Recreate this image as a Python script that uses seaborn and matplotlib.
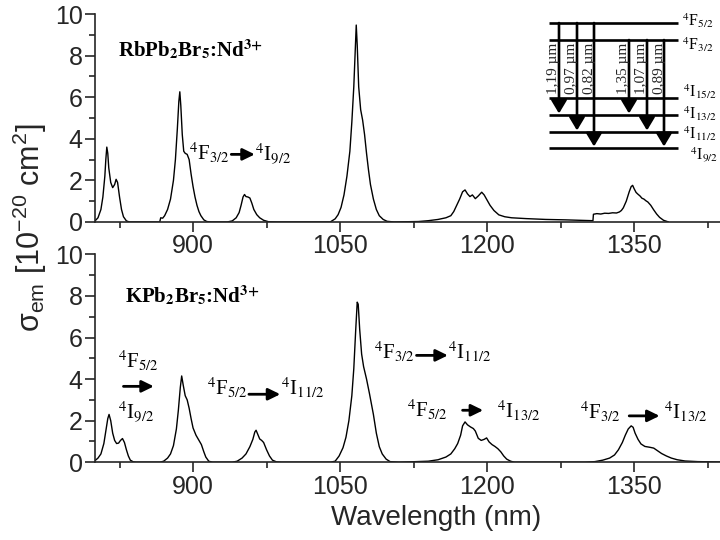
import matplotlib
matplotlib.use('Agg')
import matplotlib.pyplot as plt
import seaborn as sns
import pandas as pd
from matplotlib.ticker import MultipleLocator, FixedLocator

# ---------------- data ----------------
rb_wl = [800, 803, 806, 808, 810, 811, 812, 813, 814, 816, 818, 820, 821.5, 823, 825, 827, 829, 832, 835,
         866, 867, 869, 871, 874, 877, 880, 882, 884, 885.5, 886.5, 887.5, 889, 890.5, 892, 894, 896, 898,
         900, 902, 904, 906, 908, 911, 914, 918,
         935, 940, 944, 947, 949, 951, 952.5, 954, 956, 958, 960, 962, 965, 968, 972, 977, 985,
         1040, 1045, 1048, 1051, 1054, 1057, 1060, 1062, 1064, 1065.5, 1066.5, 1067.5, 1069, 1071, 1073,
         1075, 1077, 1079, 1081, 1084, 1087, 1090, 1094, 1098, 1105,
         1130, 1140, 1150, 1158, 1163, 1166, 1169, 1172, 1175, 1177.5, 1180, 1182.5, 1185, 1188, 1191,
         1194.5, 1197, 1200, 1203, 1207, 1212, 1218, 1225, 1240, 1260, 1280, 1300, 1308,
         1308.5, 1312, 1316, 1320, 1324, 1328, 1332, 1335, 1337, 1339, 1342, 1345, 1347, 1348.5, 1350,
         1352, 1354, 1356, 1358, 1360, 1362, 1364, 1367, 1370, 1373, 1376, 1380, 1385]
rb_sigma = [0.05, 0.2, 0.6, 1.2, 2.2, 3.0, 3.6, 3.3, 2.6, 1.9, 1.65, 1.8, 2.05, 1.9, 1.2, 0.6, 0.25, 0.05, 0.0,
            0.0, 0.2, 0.18, 0.3, 0.6, 1.1, 2.0, 3.0, 4.5, 5.8, 6.26, 5.6, 4.2, 3.4, 3.3, 3.25, 3.0, 2.3,
            1.7, 1.2, 0.8, 0.5, 0.3, 0.1, 0.02, 0.0,
            0.0, 0.05, 0.2, 0.45, 0.8, 1.2, 1.32, 1.22, 1.2, 1.15, 0.9, 0.6, 0.35, 0.2, 0.08, 0.01, 0.0,
            0.0, 0.15, 0.35, 0.7, 1.3, 2.2, 3.4, 4.8, 6.5, 8.3, 9.47, 8.5, 6.5, 5.4, 4.9,
            4.2, 3.3, 2.5, 1.8, 1.1, 0.6, 0.3, 0.12, 0.03, 0.0,
            0.02, 0.06, 0.12, 0.2, 0.3, 0.5, 0.8, 1.1, 1.45, 1.54, 1.35, 1.22, 1.3, 1.12, 1.25,
            1.43, 1.3, 1.05, 0.8, 0.55, 0.34, 0.25, 0.2, 0.16, 0.12, 0.1, 0.07, 0.06,
            0.37, 0.40, 0.38, 0.42, 0.41, 0.44, 0.43, 0.48, 0.55, 0.68, 1.0, 1.45, 1.7, 1.76, 1.6,
            1.42, 1.33, 1.25, 1.14, 1.1, 1.02, 0.96, 0.8, 0.58, 0.38, 0.22, 0.08, 0.0]

k_wl = [800, 803, 806, 809, 811, 813, 814.3, 816, 818, 820, 822, 824, 826, 828, 830, 832, 834, 836, 839, 842,
        866, 870, 874, 877, 880, 883, 885, 887, 888.4, 890, 892, 894, 896, 898, 900, 903, 906, 908.5,
        911, 913, 916, 920,
        940, 945, 950, 954, 958, 961, 963, 964.3, 966, 968, 970, 972, 975, 978, 981, 985, 990,
        1040, 1045, 1049, 1053, 1056, 1059, 1062, 1064, 1066, 1067.5, 1068.5, 1070, 1072, 1074, 1077,
        1080, 1084, 1087, 1090, 1093, 1097, 1101, 1110,
        1140, 1150, 1158, 1163, 1167, 1170, 1173, 1175, 1177.5, 1180, 1183, 1186, 1188, 1191, 1194,
        1197, 1199.5, 1202, 1205, 1208, 1211, 1214, 1217, 1220, 1224, 1228,
        1300, 1310, 1318, 1325, 1330, 1334, 1338, 1341, 1344, 1347, 1349, 1351, 1354, 1357, 1361,
        1366, 1370, 1374, 1378, 1383, 1388, 1394, 1402, 1415, 1430, 1440]
k_sigma = [0.08, 0.2, 0.4, 0.9, 1.5, 2.1, 2.3, 2.0, 1.4, 1.05, 0.9, 0.92, 1.05, 1.14, 0.95, 0.6, 0.3, 0.1, 0.02, 0.0,
           0.0, 0.05, 0.2, 0.4, 0.8, 1.6, 2.5, 3.6, 4.15, 3.7, 3.2, 3.0, 2.6, 2.1, 1.65, 1.3, 1.05, 0.85,
           0.5, 0.25, 0.05, 0.0,
           0.0, 0.05, 0.2, 0.4, 0.75, 1.1, 1.45, 1.54, 1.35, 1.12, 1.05, 0.95, 0.6, 0.3, 0.1, 0.02, 0.0,
           0.0, 0.05, 0.3, 0.7, 1.2, 2.0, 3.2, 4.5, 6.4, 7.7, 7.6, 6.4, 5.2, 4.6, 4.0,
           3.3, 2.3, 1.4, 0.75, 0.4, 0.15, 0.03, 0.0,
           0.05, 0.12, 0.25, 0.4, 0.65, 0.9, 1.3, 1.75, 1.94, 1.8, 1.7, 1.62, 1.5, 1.15, 1.05,
           1.1, 1.17, 0.98, 0.85, 0.76, 0.65, 0.5, 0.3, 0.15, 0.05, 0.0,
           0.0, 0.03, 0.1, 0.2, 0.35, 0.6, 0.95, 1.3, 1.6, 1.75, 1.68, 1.4, 1.1, 0.88, 0.76,
           0.72, 0.68, 0.55, 0.42, 0.3, 0.2, 0.12, 0.06, 0.03, 0.02, 0.01]

x_major = [900, 1050, 1200, 1350]
y_major = [0, 2, 4, 6, 8, 10]

# energy-level scheme (inset)
level_names = [r'$^4$F$_{5/2}$', r'$^4$F$_{3/2}$', r'$^4$I$_{15/2}$',
               r'$^4$I$_{13/2}$', r'$^4$I$_{11/2}$', r'$^4$I$_{9/2}$']
trans_from = [0, 0, 0, 1, 1, 1]
trans_to = [3, 4, 5, 3, 4, 5]
trans_labels = ['1,19 µm', '0,97 µm', '0,82 µm', '1,35 µm', '1,07 µm', '0,89 µm']

# ---------------- style ----------------
sns.set_style('ticks')
plt.rcParams['font.family'] = ['Liberation Sans', 'DejaVu Sans']
plt.rcParams['mathtext.fontset'] = 'custom'
plt.rcParams['mathtext.rm'] = 'Liberation Sans'
plt.rcParams['mathtext.it'] = 'Liberation Sans:italic'
plt.rcParams['mathtext.bf'] = 'Liberation Sans:bold'

SERIF = dict(family=['Liberation Serif', 'DejaVu Serif'], math_fontfamily='stix', color='black')

fig = plt.figure(figsize=(7.2, 5.4), dpi=100)
ax_top = fig.add_axes([0.132, 0.589, 0.8685, 0.385])
ax_bot = fig.add_axes([0.132, 0.144, 0.8685, 0.385])

df_rb = pd.DataFrame({'wl': rb_wl, 'sigma': rb_sigma})
df_k = pd.DataFrame({'wl': k_wl, 'sigma': k_sigma})
sns.lineplot(data=df_rb, x='wl', y='sigma', ax=ax_top, color='black', lw=1.0, estimator=None, sort=False)
sns.lineplot(data=df_k, x='wl', y='sigma', ax=ax_bot, color='black', lw=1.0, estimator=None, sort=False)

for ax in (ax_top, ax_bot):
    ax.set_xlim(800, 1438)
    ax.set_ylim(0, 10)
    ax.xaxis.set_major_locator(FixedLocator(x_major))
    ax.xaxis.set_minor_locator(MultipleLocator(75))
    ax.yaxis.set_major_locator(FixedLocator(y_major))
    ax.yaxis.set_minor_locator(MultipleLocator(1))
    ax.tick_params(which='major', direction='out', length=7, width=1.2, labelsize=18, pad=2)
    ax.tick_params(which='minor', direction='out', length=4, width=1.2)
    for s in ('top', 'right'):
        ax.spines[s].set_visible(False)
    for s in ('left', 'bottom'):
        ax.spines[s].set_linewidth(1.2)
    ax.set_xlabel('')
    ax.set_ylabel('')
    ax.patch.set_alpha(0)

ax_bot.set_xlabel('Wavelength (nm)', fontsize=20)
ax_bot.xaxis.set_label_coords((437 - 95) / 627, -(518 - 462) / 208)
ax_bot.xaxis.label.set_va('center')
fig.text(30 / 720, 1 - 228 / 540, r'σ$_{\rm em}$ [10$^{-20}$ cm$^{2}$]', rotation=90,
         ha='center', va='center', fontsize=22)

# sample labels
ax_top.text(823, 8.27, r'RbPb$_\mathbf{2}$Br$_\mathbf{5}$:Nd$^\mathbf{3{+}}$', fontsize=15,
            fontweight='bold', va='center', ha='left', **SERIF)
ax_bot.text(831, 8.0, r'KPb$_\mathbf{2}$Br$_\mathbf{5}$:Nd$^\mathbf{3{+}}$', fontsize=15,
            fontweight='bold', va='center', ha='left', **SERIF)

ARROW = dict(arrowstyle='-|>,head_length=0.45,head_width=0.22', lw=2.0, color='black',
             shrinkA=0, shrinkB=0, mutation_scale=16)


def transition(ax, x1, y1, xa0, xa1, ya, x2, y2, t1, t2, fs=15):
    ax.text(x1, y1, t1, fontsize=fs, ha='left', va='center', **SERIF)
    ax.annotate('', xy=(xa1, ya), xytext=(xa0, ya), arrowprops=ARROW)
    ax.text(x2, y2, t2, fontsize=fs, ha='left', va='center', **SERIF)


transition(ax_top, 896, 3.3, 939, 963, 3.25, 963, 3.3, r'$^4$F$_{3/2}$', r'$^4$I$_{9/2}$')
# bottom panel
ax_bot.text(823, 4.85, r'$^4$F$_{5/2}$', fontsize=15, ha='left', va='center', **SERIF)
ax_bot.annotate('', xy=(860, 3.65), xytext=(829, 3.65), arrowprops=ARROW)
ax_bot.text(823, 2.45, r'$^4$I$_{9/2}$', fontsize=15, ha='left', va='center', **SERIF)
transition(ax_bot, 914, 3.55, 957, 989, 3.27, 990, 3.55, r'$^4$F$_{5/2}$', r'$^4$I$_{11/2}$')
transition(ax_bot, 1085, 5.3, 1128, 1160, 5.14, 1160, 5.3, r'$^4$F$_{3/2}$', r'$^4$I$_{11/2}$')
transition(ax_bot, 1118, 2.5, 1175, 1196, 2.5, 1210, 2.45, r'$^4$F$_{5/2}$', r'$^4$I$_{13/2}$')
transition(ax_bot, 1295, 2.42, 1345, 1376, 2.23, 1380, 2.42, r'$^4$F$_{3/2}$', r'$^4$I$_{13/2}$')

# ---------------- energy level inset (pixel coordinates) ----------------
ov = fig.add_axes([0, 0, 1, 1], facecolor='none')
ov.set_xlim(0, 720)
ov.set_ylim(540, 0)
ov.axis('off')
level_y = [23, 40, 98, 115, 132, 148]
label_y = [21, 45, 92, 114, 134, 155]
label_x = [682, 682, 683, 683, 683, 690]
for y, name, ly, lx in zip(level_y, level_names, label_y, label_x):
    ov.plot([549, 678], [y, y], color='black', lw=1.9, solid_capstyle='butt')
    ov.text(lx, ly, name, fontsize=11.5, ha='left', va='center', **SERIF)
trans_x = [559, 577, 594, 629, 647, 664]
ARR2 = dict(arrowstyle='-|>,head_length=0.5,head_width=0.3', lw=1.9, color='black',
            shrinkA=0, shrinkB=0, mutation_scale=16)
for x, f, t, lab in zip(trans_x, trans_from, trans_to, trans_labels):
    ov.annotate('', xy=(x, level_y[t] - 1.5), xytext=(x, level_y[f]), arrowprops=ARR2)
    ov.text(x - 5, 68, lab, rotation=90, fontsize=11, ha='center', va='center',
            family=['Liberation Serif', 'DejaVu Serif'])

fig.savefig('out.png', dpi=100)
